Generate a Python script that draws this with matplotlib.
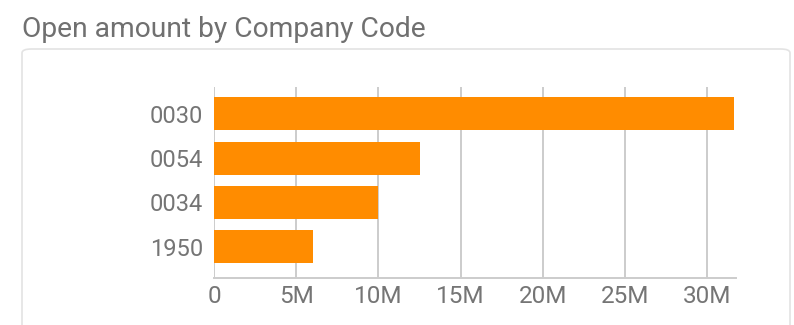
import matplotlib
matplotlib.use("Agg")
import matplotlib.pyplot as plt
from matplotlib.patches import FancyBboxPatch
from matplotlib.ticker import FuncFormatter

plt.rcParams['font.family'] = ['Roboto', 'DejaVu Sans']

# open amount per company code (top to bottom)
codes = ['0030', '0054', '0034', '1950']
amounts = [31.6e6, 12.5e6, 10.0e6, 6.0e6]
xticks = [0, 5e6, 10e6, 15e6, 20e6, 25e6, 30e6]

bar_color = '#FF8C00'
grid_color = '#CCCCCC'
text_color = '#757575'

fig = plt.figure(figsize=(7.94, 3.25), dpi=100)
fig.patch.set_facecolor('white')

# card behind the chart
card = FancyBboxPatch((22 / 794, -0.2), 768 / 794, 1.2 - 49 / 325,
                      boxstyle='round,pad=0,rounding_size=0.012',
                      transform=fig.transFigure, facecolor='white',
                      edgecolor='#E3E3E3', linewidth=1.2, zorder=-1)
fig.patches.append(card)

fig.text(22 / 794, 1 - 37 / 325, 'Open amount by Company Code',
         fontsize=20.3, color='#707070', va='baseline', ha='left')

ax = fig.add_axes([214 / 794, 1 - 277.7 / 325, 522 / 794, 190.4 / 325])
ax.set_zorder(2)
ax.set_facecolor('none')

ypos = list(range(len(codes)))[::-1]
ax.barh(ypos, amounts, height=0.75, color=bar_color, zorder=3)

ax.set_xlim(0, 31.75e6)
ax.set_ylim(-0.7, 3.6)
ax.set_yticks(ypos)
ax.set_yticklabels(codes)
ax.set_xticks(xticks)
ax.xaxis.set_major_formatter(FuncFormatter(lambda v, p: '0' if v == 0 else f'{v / 1e6:.0f}M'))

ax.grid(axis='x', color=grid_color, linewidth=1.4, zorder=1)
for side in ['top', 'right', 'left']:
    ax.spines[side].set_visible(False)
ax.spines['bottom'].set_color(grid_color)
ax.spines['bottom'].set_linewidth(1.4)
ax.tick_params(axis='both', length=0, colors=text_color)
ax.tick_params(axis='y', pad=8, labelsize=17)
ax.tick_params(axis='x', pad=5, labelsize=17.5)

fig.savefig('out.png', dpi=100, facecolor='white')
